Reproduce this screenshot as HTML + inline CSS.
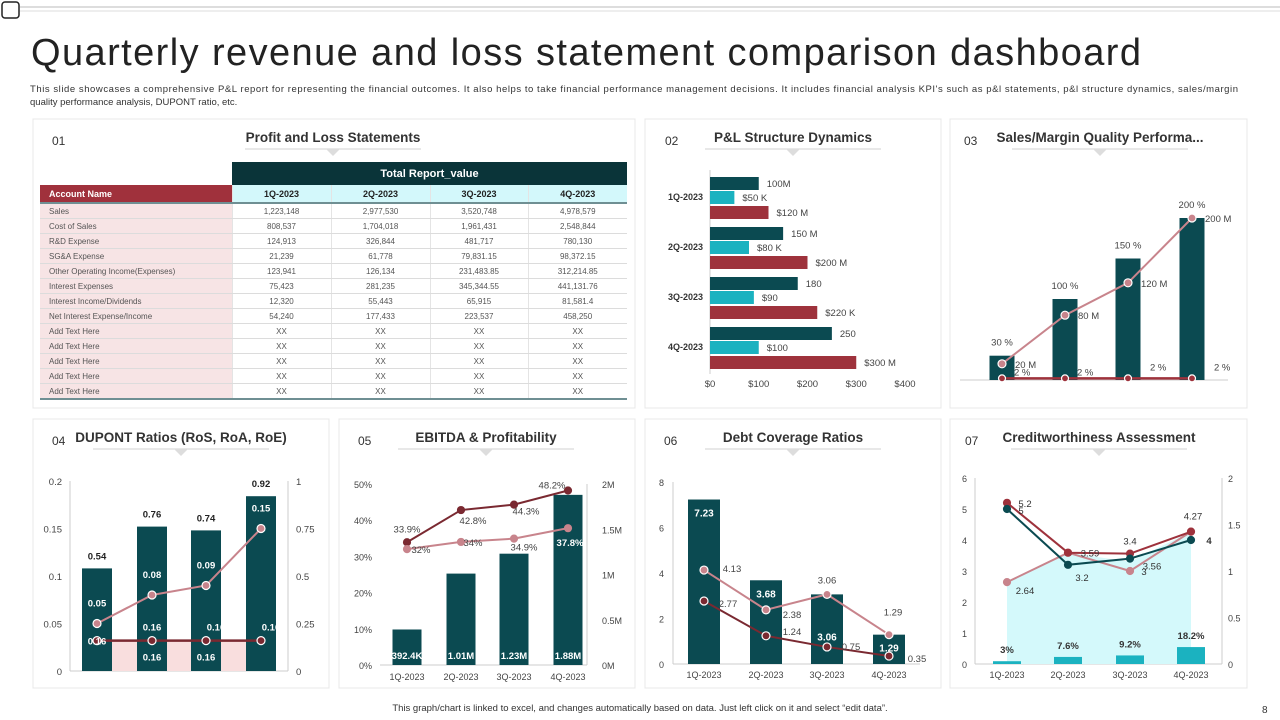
<!DOCTYPE html>
<html><head><meta charset="utf-8">
<style>
body{margin:0;width:1280px;height:720px;overflow:hidden;background:#fff;font-family:"Liberation Sans",sans-serif;position:relative}
svg{position:absolute;left:0;top:0}
text{font-family:"Liberation Sans",sans-serif}
#pl{position:absolute;left:40px;top:162px;border-collapse:collapse;font-size:8px;color:#555;table-layout:fixed}
#pl td{height:14px;padding:0;border-bottom:1px solid #dcdcdc;text-align:center;border-left:1px solid #e4e4e4}
#pl td.a{text-align:left;padding-left:9px;background:#f7e4e5;border-left:none}
#pl tr.h1 td{background:#0a3439;color:#fff;font-size:11px;font-weight:bold;height:23px;border:none}
#pl tr.h1 td.e{background:#fff}
#pl tr.h2 td{background:#d3f8fb;color:#222;font-weight:bold;font-size:9px;height:17px;border-bottom:2px solid #6f8f93}
#pl tr.h2 td.a{background:#a0313c;color:#fff}
#pl tr.last td{border-bottom:2px solid #6f8f93}
</style></head><body>
<svg id="s" width="1280" height="720">
<rect x="2" y="2" width="17" height="16" rx="3" fill="none" stroke="#222" stroke-width="1.5"/>
<line x1="20" y1="7" x2="1280" y2="7" stroke="#bbb"/>
<line x1="20" y1="11" x2="1280" y2="11" stroke="#ddd"/>
<text x="31" y="65" font-size="38" fill="#222" textLength="1110">Quarterly revenue and loss statement comparison dashboard</text>
<text x="30" y="92" font-size="9.5" fill="#333" textLength="1208">This slide showcases a comprehensive P&amp;L report for representing the financial outcomes. It also helps to take financial performance management decisions. It includes financial analysis KPI's such as p&amp;l statements, p&amp;l structure dynamics, sales/margin</text>
<text x="30" y="105" font-size="9.5" fill="#333">quality performance analysis, DUPONT ratio, etc.</text>
<g stroke="#e8e8e8" fill="#fff">
<rect x="33" y="119" width="602" height="289"/>
<rect x="645" y="119" width="296" height="289"/>
<rect x="950" y="119" width="297" height="289"/>
<rect x="33" y="419" width="296" height="269"/>
<rect x="339" y="419" width="296" height="269"/>
<rect x="645" y="419" width="296" height="269"/>
<rect x="950" y="419" width="297" height="269"/>
</g>
<text x="640" y="711" font-size="9.5" fill="#333" text-anchor="middle">This graph/chart is linked to excel, and changes automatically based on data. Just left click on it and select “edit data”.</text>
<text x="1262" y="713" font-size="10" fill="#333">8</text>
</svg>
<table id="pl">
<colgroup><col style="width:192px"><col style="width:99px"><col style="width:99px"><col style="width:98px"><col style="width:99px"></colgroup>
<tr class="h1"><td class="e"></td><td colspan="4">Total Report_value</td></tr>
<tr class="h2"><td class="a">Account Name</td><td>1Q-2023</td><td>2Q-2023</td><td>3Q-2023</td><td>4Q-2023</td></tr>
<tr><td class="a">Sales</td><td>1,223,148</td><td>2,977,530</td><td>3,520,748</td><td>4,978,579</td></tr>
<tr><td class="a">Cost of Sales</td><td>808,537</td><td>1,704,018</td><td>1,961,431</td><td>2,548,844</td></tr>
<tr><td class="a">R&amp;D Expense</td><td>124,913</td><td>326,844</td><td>481,717</td><td>780,130</td></tr>
<tr><td class="a">SG&amp;A Expense</td><td>21,239</td><td>61,778</td><td>79,831.15</td><td>98,372.15</td></tr>
<tr><td class="a">Other Operating Income(Expenses)</td><td>123,941</td><td>126,134</td><td>231,483.85</td><td>312,214.85</td></tr>
<tr><td class="a">Interest Expenses</td><td>75,423</td><td>281,235</td><td>345,344.55</td><td>441,131.76</td></tr>
<tr><td class="a">Interest Income/Dividends</td><td>12,320</td><td>55,443</td><td>65,915</td><td>81,581.4</td></tr>
<tr><td class="a">Net Interest Expense/Income</td><td>54,240</td><td>177,433</td><td>223,537</td><td>458,250</td></tr>
<tr><td class="a">Add Text Here</td><td>XX</td><td>XX</td><td>XX</td><td>XX</td></tr>
<tr><td class="a">Add Text Here</td><td>XX</td><td>XX</td><td>XX</td><td>XX</td></tr>
<tr><td class="a">Add Text Here</td><td>XX</td><td>XX</td><td>XX</td><td>XX</td></tr>
<tr><td class="a">Add Text Here</td><td>XX</td><td>XX</td><td>XX</td><td>XX</td></tr>
<tr class="last"><td class="a">Add Text Here</td><td>XX</td><td>XX</td><td>XX</td><td>XX</td></tr>
</table>
<script>
const quarters=["1Q-2023","2Q-2023","3Q-2023","4Q-2023"];
// P&L structure
const plDark=[100,150,180,250], plDarkLbl=["100M","150 M","180","250"];
const plTeal=[50,80,90,100], plTealLbl=["$50 K","$80 K","$90","$100"];
const plRed=[120,200,220,300], plRedLbl=["$120 M","$200 M","$220 K","$300 M"];
const plTicks=[0,100,200,300,400];
// Sales margin
const smBars=[30,100,150,200], smLine=[20,80,120,200], smLow=[2,2,2,2];
// DUPONT
const duBars=[0.54,0.76,0.74,0.92], duRos=[0.05,0.08,0.09,0.15], duRoa=[0.16,0.16,0.16,0.16], duArea=[0.16,0.16,0.16,0.16];
const duTicksL=[0,0.05,0.1,0.15,0.2], duTicksR=[0,0.25,0.5,0.75,1];
// EBITDA
const ebBars=[0.3924,1.01,1.23,1.88], ebBarLbl=["392.4K","1.01M","1.23M","1.88M"];
const ebLine1=[33.9,42.8,44.3,48.2], ebLine2=[32,34,34.9,37.8];
const ebTicksL=[0,10,20,30,40,50], ebTicksR=[0,0.5,1,1.5,2];
// Debt coverage
const dcBars=[7.23,3.68,3.06,1.29], dcLine1=[4.13,2.38,3.06,1.29], dcLine2=[2.77,1.24,0.75,0.35];
const dcTicks=[0,2,4,6,8];
// Creditworthiness
const cwRed=[5.2,3.59,3.56,4.27], cwTeal=[5,3.2,3.4,4], cwPink=[2.64,3.59,3,4.27], cwArea=[2.64,3.59,3.3,4.27];
const cwBars=[0.03,0.076,0.092,0.182];
const cwTicksL=[0,1,2,3,4,5,6], cwTicksR=[0,0.5,1,1.5,2];

const S=document.getElementById('s'),NS="http://www.w3.org/2000/svg";
const DK="#0b4a51",RD="#9e323c",TL="#1bb2c0",PK="#c8848c",DR="#7a2931";
function mk(tag,at,name,txt){const e=document.createElementNS(NS,tag);for(const k in at)e.setAttribute(k,at[k]);


if(txt!==undefined)e.textContent=txt;S.appendChild(e);return e;}
function T(x,y,s,name,o){o=o||{};return mk('text',Object.assign({x:x,y:y,'font-size':o.fs||10,fill:o.c||'#444','text-anchor':o.a||'start','font-weight':o.b?'bold':'normal'},o.extra||{}),name,s);}
function header(num,nx,title,cx,y){T(nx,y+3,num,'panel-number',{fs:12,c:'#333'});
T(cx,y,title,'panel-title',{fs:13.5,c:'#333',a:'middle',b:1});
mk('line',{x1:cx-88,y1:y+7,x2:cx+88,y2:y+7,stroke:'#d0d0d0'},'title-underline');
mk('polygon',{points:`${cx-7},${y+7} ${cx+7},${y+7} ${cx},${y+14}`,fill:'#ddd'},'title-pointer');}
header("01",52,"Profit and Loss  Statements",333,142);
header("02",665,"P&L Structure Dynamics",793,142);
header("03",964,"Sales/Margin Quality Performa...",1100,142);
header("04",52,"DUPONT Ratios (RoS, RoA, RoE)",181,442);
header("05",358,"EBITDA & Profitability",486,442);
header("06",664,"Debt Coverage Ratios",793,442);
header("07",965,"Creditworthiness  Assessment",1099,442);
function line(xs,ys,col,name,w){mk('polyline',{points:xs.map((x,i)=>x+','+ys[i]).join(' '),fill:'none',stroke:col,'stroke-width':w||2},name);}
function dots(xs,ys,col,name,r,st){xs.forEach((x,i)=>mk('circle',{cx:x,cy:ys[i],r:r||4,fill:col,stroke:st||'#fff','stroke-width':1.2},name));}

// Panel 2
{const x=v=>710+v*0.4875;
mk('line',{x1:710,y1:170,x2:710,y2:374,stroke:'#ccc'},'y-axis-line');
plTicks.forEach(t=>T(x(t),387,'$'+t,'x-tick-label',{fs:9.5,a:'middle'}));
quarters.forEach((q,i)=>{const y0=177+i*50;
T(703,y0+23,q,'category-label',{fs:9,a:'end',c:'#333',b:1});
[[plDark,plDarkLbl,DK,0],[plTeal,plTealLbl,TL,14],[plRed,plRedLbl,RD,29]].forEach(([d,l,c,o])=>{
mk('rect',{x:710,y:y0+o,width:x(d[i])-710,height:13,fill:c},'bar-'+q);
T(x(d[i])+8,y0+o+10,l[i],'bar-value-label',{fs:9.5});});});}

// Panel 3
{const xs=[1002,1065,1128,1192],y=v=>380-v*0.81;
mk('line',{x1:960,y1:380,x2:1228,y2:380,stroke:'#ccc'},'x-axis-line');
smBars.forEach((v,i)=>{mk('rect',{x:xs[i]-12.5,y:y(v),width:25,height:380-y(v),fill:DK},'bar-'+quarters[i]);
T(xs[i],y(v)-10,v+' %','bar-percent-label',{fs:9.5,a:'middle'});});
line(xs,smLine.map(y),PK,'sales-line');dots(xs,smLine.map(y),PK,'sales-point');
smLine.forEach((v,i)=>T(xs[i]+13,y(v)+4,v+' M','line-value-label',{fs:9.5}));
line(xs,smLow.map(y),RD,'margin-line',2.5);dots(xs,smLow.map(y),RD,'margin-point',3.5);
smLow.forEach((v,i)=>T(xs[i]+(i<2?12:22),y(v)-(i<2?3:8),v+' %','margin-label',{fs:9.5}));}

// Panel 4
{const xs=[97,152,206,261],yL=v=>671-v/0.2*190,yR=v=>671-v*190;
mk('line',{x1:70,y1:481,x2:70,y2:671,stroke:'#ccc'},'left-axis');
mk('line',{x1:288,y1:481,x2:288,y2:671,stroke:'#ccc'},'right-axis');
mk('line',{x1:70,y1:671,x2:288,y2:671,stroke:'#ccc'},'x-axis-line');
duTicksL.forEach(t=>T(62,yL(t)+4,String(t),'left-tick-label',{fs:9.5,a:'end'}));
duTicksR.forEach(t=>T(296,yR(t)+4,String(t),'right-tick-label',{fs:9.5}));
mk('polygon',{points:xs.map((x,i)=>x+','+yR(duArea[i])).join(' ')+` ${xs[3]},671 ${xs[0]},671`,fill:'#f9dede'},'roe-area');
duBars.forEach((v,i)=>{mk('rect',{x:xs[i]-15,y:yR(v),width:30,height:671-yR(v),fill:DK},'bar-'+quarters[i]);
T(xs[i],yR(v)-9,v.toFixed(2),'bar-value-label',{fs:9.5,c:'#222',a:'middle',b:1});});
[1,2].forEach(i=>T(xs[i],yR(duArea[i])+20,duArea[i].toFixed(2),'area-value-label',{fs:9.5,c:'#fff',a:'middle',b:1}));
line(xs,duRoa.map(yR),DR,'roa-line',2.5);dots(xs,duRoa.map(yR),DR,'roa-point');
duRoa.forEach((v,i)=>T(xs[i]+(i>1?10:0),yR(v)-(i===0?-4:10),v.toFixed(2),'roa-label',{fs:9.5,c:'#fff',a:'middle',b:1}));
line(xs,duRos.map(yL),PK,'ros-line');dots(xs,duRos.map(yL),PK,'ros-point');
duRos.forEach((v,i)=>T(xs[i],yL(v)-17,v.toFixed(2),'ros-label',{fs:9.5,c:'#fff',a:'middle',b:1}));}

// Panel 5
{const xs=[407,461,514,568],yL=p=>665-p*3.62,yR=m=>665-m*90.5;
mk('line',{x1:380,y1:665,x2:587,y2:665,stroke:'#ccc'},'x-axis-line');
mk('line',{x1:587,y1:484,x2:587,y2:665,stroke:'#ccc'},'right-axis');
ebTicksL.forEach(t=>T(372,yL(t)+4,t+'%','left-tick-label',{fs:9,a:'end'}));
ebTicksR.forEach(t=>T(602,yR(t)+4,t+'M','right-tick-label',{fs:9}));
quarters.forEach((q,i)=>T(xs[i],680,q,'x-tick-label',{fs:9,a:'middle'}));
ebBars.forEach((v,i)=>{mk('rect',{x:xs[i]-14.5,y:yR(v),width:29,height:665-yR(v),fill:DK},'ebitda-bar');
T(xs[i],659,ebBarLbl[i],'ebitda-bar-label',{fs:9.5,c:'#fff',a:'middle',b:1});});
line(xs,ebLine1.map(yL),DR,'profit-line-1');dots(xs,ebLine1.map(yL),DR,'profit-point-1',3.5,DR);
line(xs,ebLine2.map(yL),PK,'profit-line-2');dots(xs,ebLine2.map(yL),PK,'profit-point-2',3.5,PK);
const o1=[[0,-10],[12,14],[12,10],[-16,-2]],o2=[[14,4],[12,4],[10,12],[2,18]];
ebLine1.forEach((v,i)=>T(xs[i]+o1[i][0],yL(v)+o1[i][1],v+'%','profit-label-1',{fs:9.5,a:'middle'}));
ebLine2.forEach((v,i)=>T(xs[i]+o2[i][0],yL(v)+o2[i][1],v+'%','profit-label-2',{fs:9.5,a:'middle',c:i===3?'#fff':'#444',b:i===3}));}

// Panel 6
{const xs=[704,766,827,889],y=v=>664-v*22.75;
mk('line',{x1:673,y1:482,x2:673,y2:664,stroke:'#ccc'},'left-axis');
mk('line',{x1:673,y1:664,x2:920,y2:664,stroke:'#ccc'},'x-axis-line');
dcTicks.forEach(t=>T(664,y(t)+4,String(t),'left-tick-label',{fs:9,a:'end'}));
quarters.forEach((q,i)=>T(xs[i],678,q,'x-tick-label',{fs:9,a:'middle'}));
dcBars.forEach((v,i)=>{mk('rect',{x:xs[i]-16,y:y(v),width:32,height:664-y(v),fill:DK},'coverage-bar');
T(xs[i],y(v)+(i===2?46:17),v.toFixed(2),'bar-value-label',{fs:10,c:'#fff',a:'middle',b:1});});
line(xs,dcLine1.map(y),PK,'coverage-line-1');dots(xs,dcLine1.map(y),PK,'coverage-point-1');
line(xs,dcLine2.map(y),DR,'coverage-line-2');dots(xs,dcLine2.map(y),DR,'coverage-point-2');
const o1=[[28,2],[26,8],[0,-11],[4,-19]],o2=[[24,6],[26,-1],[24,3],[28,6]];
dcLine1.forEach((v,i)=>T(xs[i]+o1[i][0],y(v)+o1[i][1],String(v),'line-label-1',{fs:9.5,a:'middle'}));
dcLine2.forEach((v,i)=>T(xs[i]+o2[i][0],y(v)+o2[i][1],String(v),'line-label-2',{fs:9.5,a:'middle'}));}

// Panel 7
{const xs=[1007,1068,1130,1191],yL=v=>664-v*31,yR=v=>664-v*93;
mk('line',{x1:975,y1:478,x2:975,y2:664,stroke:'#ccc'},'left-axis');
mk('line',{x1:1222,y1:478,x2:1222,y2:664,stroke:'#ccc'},'right-axis');
mk('line',{x1:975,y1:664,x2:1222,y2:664,stroke:'#ccc'},'x-axis-line');
cwTicksL.forEach(t=>T(967,yL(t)+4,String(t),'left-tick-label',{fs:9,a:'end'}));
cwTicksR.forEach(t=>T(1228,yR(t)+4,String(t),'right-tick-label',{fs:9}));
quarters.forEach((q,i)=>T(xs[i],678,q,'x-tick-label',{fs:9,a:'middle'}));
mk('polygon',{points:xs.map((x,i)=>x+','+yL(cwArea[i])).join(' ')+` ${xs[3]},664 ${xs[0]},664`,fill:'#d4f9fb'},'credit-area');
cwBars.forEach((v,i)=>{mk('rect',{x:xs[i]-14,y:yR(v),width:28,height:664-yR(v),fill:TL},'credit-bar');
T(xs[i],yR(v)-8,(v*100).toFixed(1).replace('.0','')+'%','credit-bar-label',{fs:9.5,c:'#333',a:'middle',b:1});});
line(xs,cwPink.map(yL),PK,'pink-line');dots(xs,cwPink.map(yL),PK,'pink-point',3.5,PK);
line(xs,cwRed.map(yL),RD,'red-line');dots(xs,cwRed.map(yL),RD,'red-point',3.5,RD);
line(xs,cwTeal.map(yL),DK,'teal-line');dots(xs,cwTeal.map(yL),DK,'teal-point',3.5,DK);
const oR=[[18,4],[22,4],[22,16],[2,-12]],oT=[[14,5],[14,16],[0,-14],[18,4]],oP=[[18,12],[0,0],[14,4],[0,0]];
cwRed.forEach((v,i)=>T(xs[i]+oR[i][0],yL(v)+oR[i][1],String(v),'red-label',{fs:9.5,a:'middle',c:'#333'}));
cwTeal.forEach((v,i)=>T(xs[i]+oT[i][0],yL(v)+oT[i][1],String(v),'teal-label',{fs:9.5,a:'middle',c:'#333',b:i===3}));
[0,2].forEach(i=>T(xs[i]+oP[i][0],yL(cwPink[i])+oP[i][1],String(cwPink[i]),'pink-label',{fs:9.5,a:'middle',c:'#333'}));}
</script>
</body></html>
